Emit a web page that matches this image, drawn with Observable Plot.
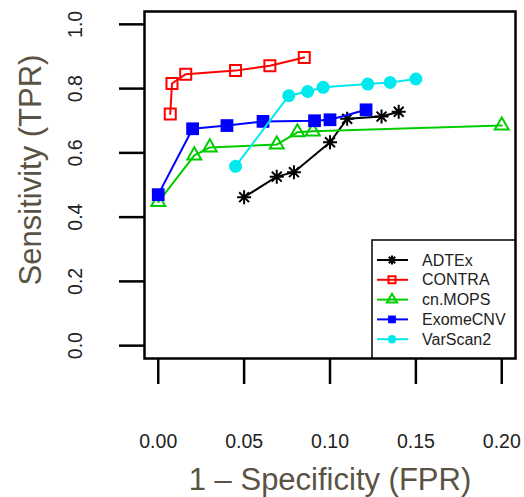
<!DOCTYPE html>
<html><head><meta charset="utf-8">
<script src="https://cdn.jsdelivr.net/npm/d3@7"></script>
<script src="https://cdn.jsdelivr.net/npm/@observablehq/plot@0.6"></script>
<style>
html,body{margin:0;padding:0;background:#fff;}
#chart{width:524px;height:497px;}
</style></head><body><div id="chart"></div>
<script>
const methods = ["ADTEx","CONTRA","cn.MOPS","ExomeCNV","VarScan2"];
const colors = ["#000000","#ff0000","#00cd00","#0000ff","#00eaee"];
const adtexFPR = [0.050,0.069,0.079,0.100,0.110,0.130,0.140];
const adtexTPR = [0.462,0.526,0.540,0.633,0.706,0.713,0.728];
const contraFPR = [0.007,0.008,0.016,0.045,0.065,0.085];
const contraTPR = [0.721,0.816,0.845,0.856,0.871,0.897];
const cnmopsFPR = [0.000,0.021,0.030,0.069,0.081,0.090,0.200];
const cnmopsTPR = [0.447,0.592,0.617,0.626,0.664,0.667,0.685];
const exomeFPR = [0.000,0.020,0.040,0.061,0.091,0.100,0.121];
const exomeTPR = [0.470,0.675,0.685,0.698,0.700,0.703,0.734];
const varscanFPR = [0.045,0.076,0.087,0.096,0.122,0.135,0.150];
const varscanTPR = [0.558,0.778,0.791,0.804,0.814,0.819,0.830];
const xTicks = [0,0.05,0.1,0.15,0.2];
const yTicks = [0,0.2,0.4,0.6,0.8,1.0];
const xTitle = "1 – Specificity (FPR)";
const yTitle = "Sensitivity (TPR)";

const asterisk8 = {draw(ctx, size){
  const r = Math.sqrt(size/Math.PI), d = r*Math.SQRT1_2;
  ctx.moveTo(-r,0); ctx.lineTo(r,0); ctx.moveTo(0,-r); ctx.lineTo(0,r);
  ctx.moveTo(-d,-d); ctx.lineTo(d,d); ctx.moveTo(-d,d); ctx.lineTo(d,-d);
}};

const seriesFPR = [adtexFPR, contraFPR, cnmopsFPR, exomeFPR, varscanFPR];
const seriesTPR = [adtexTPR, contraTPR, cnmopsTPR, exomeTPR, varscanTPR];
const symbolSpec = [
  {symbol: asterisk8, r: 7, filled: false},
  {symbol: "square", r: 6.2, filled: false},
  {symbol: "triangle", r: 5.2, filled: false},
  {symbol: "square", r: 7.2, filled: true},
  {symbol: "circle", r: 6.5, filled: true}
];

const dataMarks = [];
methods.forEach((m, i) => {
  const rows = seriesFPR[i].map((x, j) => ({method: m, fpr: x, tpr: seriesTPR[i][j]}));
  dataMarks.push(Plot.line(rows, {x: "fpr", y: "tpr", stroke: colors[i], strokeWidth: 2}));
  const s = symbolSpec[i];
  dataMarks.push(Plot.dot(rows, {x: "fpr", y: "tpr", symbol: s.symbol, r: s.r,
    stroke: s.filled ? "none" : colors[i], fill: s.filled ? colors[i] : "none", strokeWidth: 2}));
});

const chart = Plot.plot({
  width: 524, height: 497,
  marginLeft: 144, marginRight: 9, marginTop: 11, marginBottom: 139,
  style: {fontFamily: "'Liberation Sans', Arial, sans-serif", background: "#fff"},
  x: {domain: [-0.008, 0.208]},
  y: {domain: [-0.04, 1.04]},
  marks: [
    Plot.axisX({ticks: xTicks, tickSize: 26, tickFormat: () => "", strokeWidth: 2.5, stroke: "black", label: null}),
    Plot.axisY({ticks: yTicks, tickSize: 25, tickFormat: () => "", strokeWidth: 2.5, stroke: "black", label: null}),
    Plot.text(xTicks, {x: d => d, text: d3.format(".2f"), frameAnchor: "bottom", dy: 83, lineAnchor: "middle", textAnchor: "middle", fontSize: 19.5, fill: "#222"}),
    Plot.text(yTicks, {y: d => d, text: d3.format(".1f"), frameAnchor: "left", dx: -69, rotate: -90, lineAnchor: "middle", textAnchor: "middle", fontSize: 19.5, fill: "#222"}),
    Plot.text([xTitle], {frameAnchor: "bottom", dy: 122, lineAnchor: "middle", textAnchor: "middle", fontSize: 31, fill: "#5a5344"}),
    Plot.text([yTitle], {frameAnchor: "left", dx: -113, dy: -15, rotate: -90, lineAnchor: "middle", textAnchor: "middle", fontSize: 31, fill: "#5a5344"}),
    ...dataMarks,
    Plot.frame({stroke: "black", strokeWidth: 2.5})
  ]
});
document.getElementById("chart").appendChild(chart);

// legend (drawn into the same SVG)
const svg = d3.select(chart);
const lg = svg.append("g").attr("font-family", "'Liberation Sans', Arial, sans-serif").attr("text-anchor", "start");
lg.append("rect").attr("x", 372).attr("y", 240).attr("width", 143).attr("height", 118)
  .attr("fill", "white").attr("stroke", "black").attr("stroke-width", 1.5);
const legSym = [
  {type: asterisk8, size: Math.PI*4.5*4.5},
  {type: d3.symbolSquare, size: 50},
  {type: d3.symbolTriangle, size: 45},
  {type: d3.symbolSquare, size: 60},
  {type: d3.symbolCircle, size: 55}
];
methods.forEach((m, i) => {
  const y = 260 + i*19.8;
  lg.append("line").attr("x1", 377).attr("x2", 408).attr("y1", y).attr("y2", y)
    .attr("stroke", colors[i]).attr("stroke-width", 2);
  const filled = symbolSpec[i].filled;
  lg.append("path").attr("d", d3.symbol(legSym[i].type, legSym[i].size)())
    .attr("transform", `translate(392,${y})`)
    .attr("fill", filled ? colors[i] : "none")
    .attr("stroke", filled ? "none" : colors[i]).attr("stroke-width", 2);
  lg.append("text").attr("x", 422).attr("y", y).attr("dy", "0.35em")
    .attr("font-size", 16).attr("fill", "#222").text(m);
});
</script></body></html>
